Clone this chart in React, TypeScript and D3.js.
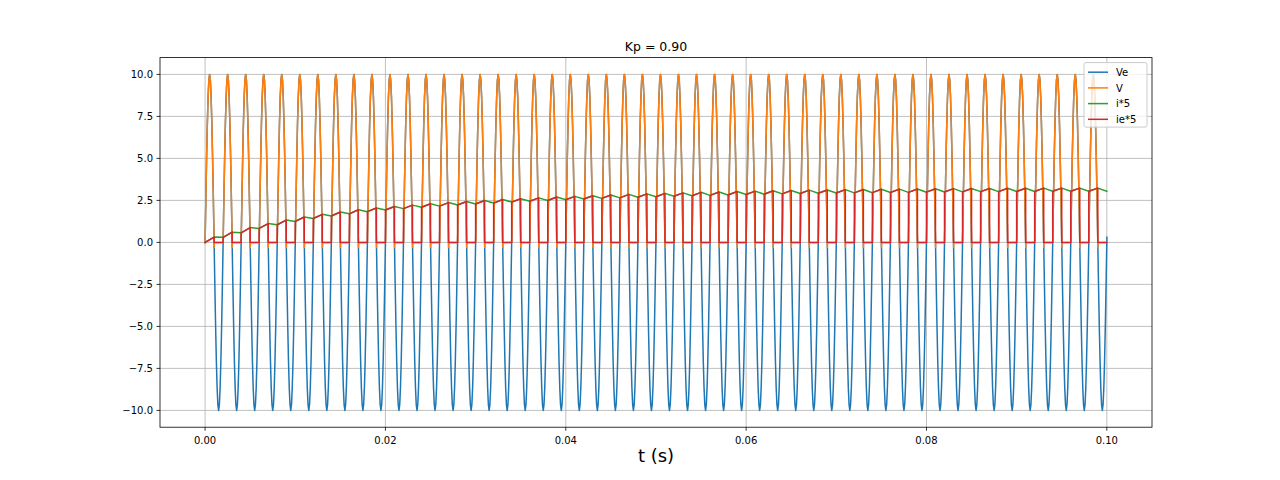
import React from 'react';
import * as d3 from 'd3';

// ---------- data ----------
const TITLE = 'Kp = 0.90';
const X_LABEL = 't (s)';
const PERIOD = 0.002; // s
const N_CYCLES = 50;

// one source cycle, phase as fraction of a period
const cyclePhase = [0, 0.0417, 0.0833, 0.125, 0.1667, 0.2083, 0.25, 0.2917, 0.3333, 0.375, 0.4167, 0.4583, 0.5, 0.505, 0.51, 0.5417, 0.5833, 0.625, 0.6667, 0.7083, 0.75, 0.7917, 0.8333, 0.875, 0.9167, 0.9583];
const veCycle = [0, 2.59, 5.0, 7.07, 8.66, 9.66, 10.0, 9.66, 8.66, 7.07, 5.0, 2.59, 0, -0.31, -0.63, -2.59, -5.0, -7.07, -8.66, -9.66, -10.0, -9.66, -8.66, -7.07, -5.0, -2.59];
const vCycle = [0, 2.59, 5.0, 7.07, 8.66, 9.66, 10.0, 9.66, 8.66, 7.07, 5.0, 2.59, 0, -0.31, 0, 0, 0, 0, 0, 0, 0, 0, 0, 0, 0, 0];
const tailTimes = [0.1, 0.10001];
const veTail = [0, 0.31];
const vTail = [0, 0];

// i*5 at the end of each positive half-cycle (t = 0.002k + 0.001)
const iPeaks = [0.32, 0.61, 0.88, 1.12, 1.33, 1.51, 1.67, 1.81, 1.94, 2.05, 2.14, 2.22, 2.30, 2.37, 2.43, 2.49, 2.55, 2.60, 2.65, 2.70, 2.74, 2.78, 2.82, 2.86, 2.89, 2.92, 2.95, 2.98, 3.00, 3.03, 3.05, 3.07, 3.09, 3.11, 3.12, 3.14, 3.15, 3.16, 3.17, 3.18, 3.19, 3.20, 3.21, 3.21, 3.22, 3.22, 3.23, 3.23, 3.23, 3.23];
// i*5 at the end of each negative half-cycle (t = 0.002k + 0.002)
const iTroughs = [0.30, 0.57, 0.83, 1.05, 1.25, 1.42, 1.57, 1.70, 1.83, 1.93, 2.01, 2.09, 2.16, 2.23, 2.29, 2.34, 2.40, 2.45, 2.49, 2.54, 2.58, 2.62, 2.65, 2.69, 2.72, 2.75, 2.78, 2.80, 2.82, 2.85, 2.87, 2.89, 2.91, 2.93, 2.94, 2.95, 2.96, 2.97, 2.98, 2.99, 3.00, 3.01, 3.02, 3.02, 3.03, 3.03, 3.04, 3.04, 3.04, 3.04];

const seriesNames = ['Ve', 'V', 'i*5', 'ie*5'];
const seriesColors = ['#1f77b4', '#ff7f0e', '#2ca02c', '#d62728'];

const xTicks = [0, 0.02, 0.04, 0.06, 0.08, 0.1];
const xTickLabels = ['0.00', '0.02', '0.04', '0.06', '0.08', '0.10'];
const yTicks = [-10, -7.5, -5, -2.5, 0, 2.5, 5, 7.5, 10];
const yTickLabels = ['\u221210.0', '\u22127.5', '\u22125.0', '\u22122.5', '0.0', '2.5', '5.0', '7.5', '10.0'];

// ---------- build series ----------
type P = [number, number];
function periodic(values: number[], tail: number[]): P[] {
  const pts: P[] = [];
  for (let k = 0; k < N_CYCLES; k++) {
    cyclePhase.forEach((ph, j) => pts.push([(k + ph) * PERIOD, values[j]]));
  }
  tailTimes.forEach((t, j) => pts.push([t, tail[j]]));
  return pts;
}
const vePts = periodic(veCycle, veTail);
const vPts = periodic(vCycle, vTail);
const iPts: P[] = [[0, 0]];
const iePts: P[] = [[0, 0]];
for (let k = 0; k < N_CYCLES; k++) {
  const t0 = k * PERIOD;
  const tm = t0 + PERIOD / 2;
  const t1 = t0 + PERIOD;
  iPts.push([tm, iPeaks[k]], [t1, iTroughs[k]]);
  if (k > 0) iePts.push([t0, iTroughs[k - 1]]);
  iePts.push([tm, iPeaks[k]], [tm, 0], [t1, 0]);
}
const allSeries = [vePts, vPts, iPts, iePts];

// ---------- layout ----------
const W = 1280, H = 480;
const L = 160, R = 1152, T = 57.6, B = 427.2;
const FONT = 'DejaVu Sans, sans-serif';

export default function App() {
  const xMin = 0, xMax = 0.10001;
  const xPad = (xMax - xMin) * 0.05;
  const x = d3.scaleLinear().domain([xMin - xPad, xMax + xPad]).range([L, R]);
  const y = d3.scaleLinear().domain([-11, 11]).range([B, T]);
  const line = d3.line<P>().x(d => x(d[0])).y(d => y(d[1]));

  const legX = 1084, legY = 62.6, legW = 63, legH = 64.5;
  return (
    <svg width={W} height={H} style={{ position: 'absolute', left: 0, top: 0, display: 'block', background: '#fff' }} fontFamily={FONT}>
      <rect x={0} y={0} width={W} height={H} fill="#fff" />
      {/* grid */}
      {xTicks.map((t, i) => (
        <line key={'gx' + i} x1={x(t)} x2={x(t)} y1={T} y2={B} stroke="#b0b0b0" strokeWidth={0.8} />
      ))}
      {yTicks.map((t, i) => (
        <line key={'gy' + i} x1={L} x2={R} y1={y(t)} y2={y(t)} stroke="#b0b0b0" strokeWidth={0.8} />
      ))}
      <defs>
        <clipPath id="plotclip"><rect x={L} y={T} width={R - L} height={B - T} /></clipPath>
      </defs>
      <g clipPath="url(#plotclip)">
        {allSeries.map((pts, i) => (
          <path key={'s' + i} d={line(pts) || ''} fill="none" stroke={seriesColors[i]} strokeWidth={1.5} strokeLinejoin="round" strokeLinecap="square" />
        ))}
      </g>
      {/* spines */}
      <rect x={L} y={T} width={R - L} height={B - T} fill="none" stroke="#000" strokeWidth={0.8} />
      {/* x ticks */}
      {xTicks.map((t, i) => (
        <g key={'xt' + i}>
          <line x1={x(t)} x2={x(t)} y1={B} y2={B + 3.5} stroke="#000" strokeWidth={0.8} />
          <text x={x(t)} y={B + 16.3} fontSize={10} textAnchor="middle" fill="#000">{xTickLabels[i]}</text>
        </g>
      ))}
      {yTicks.map((t, i) => (
        <g key={'yt' + i}>
          <line x1={L - 3.5} x2={L} y1={y(t)} y2={y(t)} stroke="#000" strokeWidth={0.8} />
          <text x={L - 7} y={y(t) + 3.4} fontSize={10} textAnchor="end" fill="#000">{yTickLabels[i]}</text>
        </g>
      ))}
      <text x={(L + R) / 2} y={T - 6.8} fontSize={12.5} textAnchor="middle" fill="#000">{TITLE}</text>
      <text x={(L + R) / 2} y={462} fontSize={18} textAnchor="middle" fill="#000">{X_LABEL}</text>
      {/* legend */}
      <rect x={legX} y={legY} width={legW} height={legH} rx={2} fill="#fff" fillOpacity={0.8} stroke="#cccccc" strokeWidth={1} />
      {seriesNames.map((n, i) => {
        const cy = legY + 9.6 + i * 15.7;
        return (
          <g key={'lg' + i}>
            <line x1={legX + 4} x2={legX + 24} y1={cy} y2={cy} stroke={seriesColors[i]} strokeWidth={1.5} />
            <text x={legX + 32} y={cy + 3.6} fontSize={10} fill="#000">{n}</text>
          </g>
        );
      })}
    </svg>
  );
}
